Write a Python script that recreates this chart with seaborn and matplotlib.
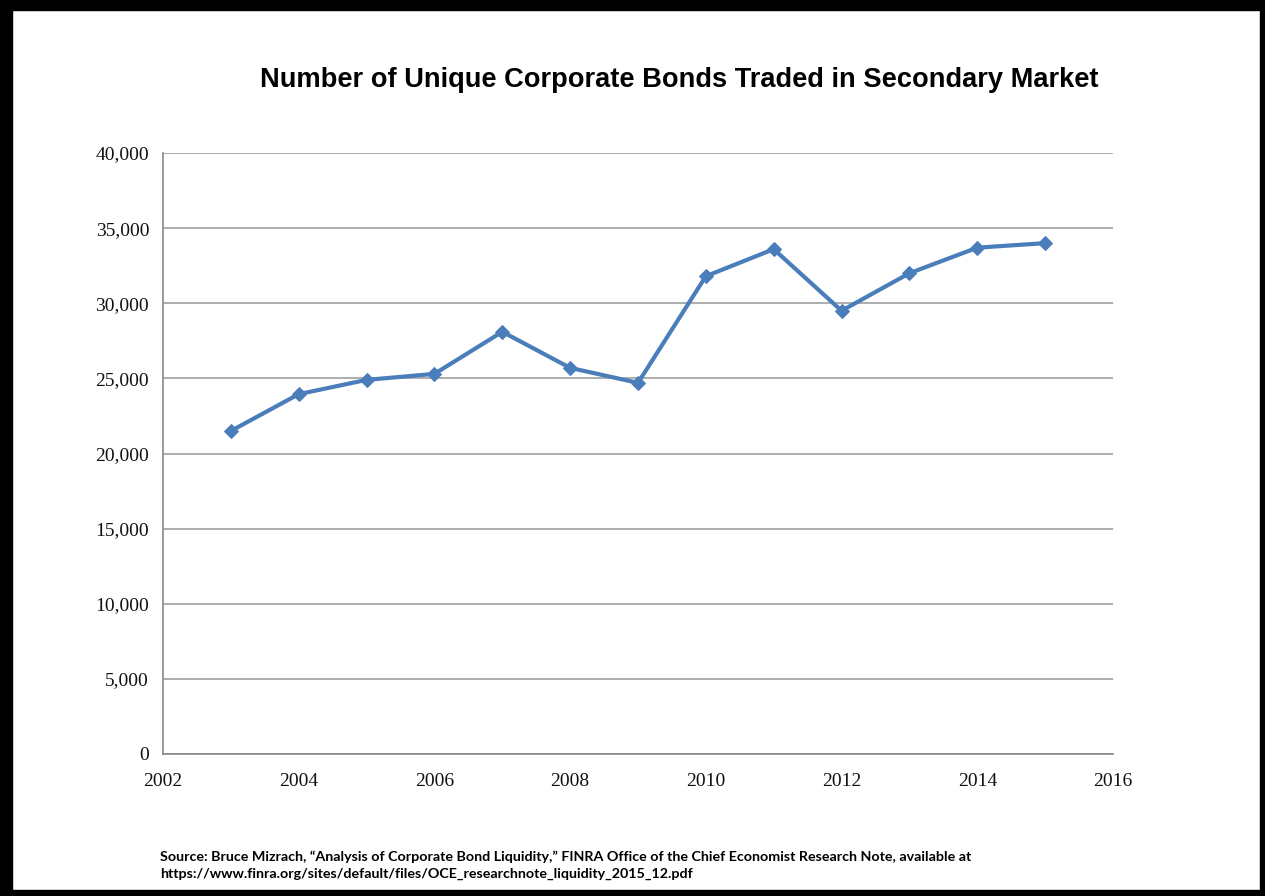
import matplotlib
matplotlib.use("Agg")
import matplotlib.pyplot as plt
from matplotlib.patches import Rectangle
from matplotlib.ticker import FuncFormatter
import pandas as pd
import seaborn as sns

years = [2003, 2004, 2005, 2006, 2007, 2008, 2009, 2010, 2011, 2012, 2013, 2014, 2015]
bonds = [21500, 23950, 24900, 25300, 28100, 25700, 24700, 31800, 33600, 29500, 32000, 33700, 34000]
xticks = [2002, 2004, 2006, 2008, 2010, 2012, 2014, 2016]
yticks = [0, 5000, 10000, 15000, 20000, 25000, 30000, 35000, 40000]

df = pd.DataFrame({'year': years, 'bonds': bonds})

sns.set_style('white')

fig = plt.figure(figsize=(12.65, 8.96), dpi=100)
ax = fig.add_axes([163 / 1265, 1 - 754 / 896, (1113 - 163) / 1265, (754 - 153) / 896])

sns.lineplot(data=df, x='year', y='bonds', ax=ax, color='#4a7ebb', linewidth=3,
             marker='D', markersize=7.5, markeredgecolor='#4a7ebb')

ax.set_xlim(2002, 2016)
ax.set_ylim(0, 40000)
ax.set_xticks(xticks)
ax.set_yticks(yticks)
ax.yaxis.set_major_formatter(FuncFormatter(lambda v, p: f'{int(v):,}'))
ax.set_xlabel('')
ax.set_ylabel('')

ax.grid(axis='y', color='#a0a0a0', linewidth=1.2)
ax.set_axisbelow(True)
for side in ['top', 'right']:
    ax.spines[side].set_visible(False)
for side in ['left', 'bottom']:
    ax.spines[side].set_color('#888888')
    ax.spines[side].set_linewidth(1.2)

ax.tick_params(axis='both', direction='out', length=6, width=1, color='#888888',
               labelsize=14, labelcolor='#111111', pad=4)
for lab in ax.get_xticklabels() + ax.get_yticklabels():
    lab.set_family('Liberation Serif')
ax.tick_params(axis='x', pad=8)

fig.text(679 / 1265, 1 - 80 / 896, 'Number of Unique Corporate Bonds Traded in Secondary Market',
         ha='center', va='center', fontsize=19.6, fontweight='bold', family='Liberation Sans',
         color='black')

fig.text(160 / 1265, 1 - 857 / 896,
         'Source: Bruce Mizrach, \u201cAnalysis of Corporate Bond Liquidity,\u201d FINRA Office of the Chief Economist Research Note, available at',
         ha='left', va='center', fontsize=10.3, fontweight='bold', family='Lato', color='black')
fig.text(160 / 1265, 1 - 874 / 896,
         'https://www.finra.org/sites/default/files/OCE_researchnote_liquidity_2015_12.pdf',
         ha='left', va='center', fontsize=10.3, fontweight='bold', family='Lato', color='black')

# black frame round the picture
fw, fh = 1265, 896
for x0, y0, w, h in [(0, 0, 12, fh), (fw - 5, 0, 5, fh), (0, fh - 10, fw, 10), (0, 0, fw, 6)]:
    fig.patches.append(Rectangle((x0 / fw, y0 / fh), w / fw, h / fh, transform=fig.transFigure,
                                 color='black', zorder=10))

plt.savefig('out.png', dpi=100)
